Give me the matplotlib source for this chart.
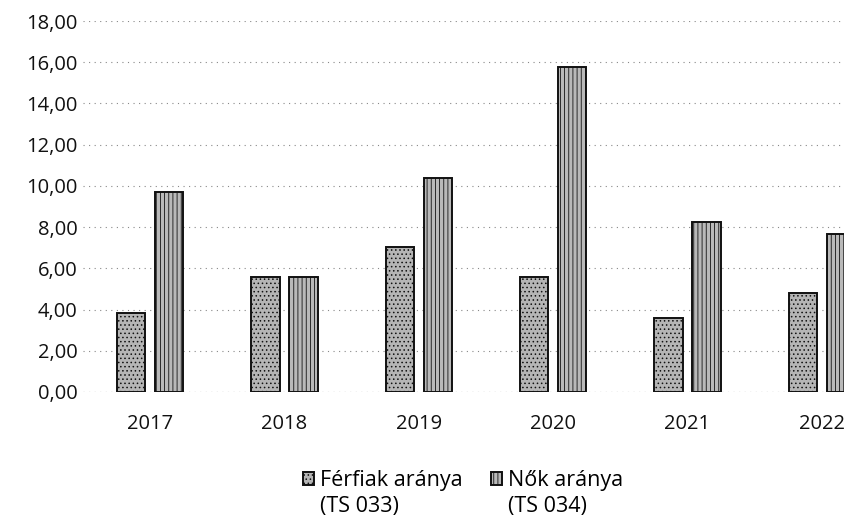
import matplotlib
matplotlib.use("Agg")
import matplotlib.pyplot as plt
from matplotlib.patches import Rectangle
from matplotlib.legend_handler import HandlerPatch
import numpy as np

years = ["2017", "2018", "2019", "2020", "2021", "2022"]
ferfiak = [3.85, 5.6, 7.05, 5.6, 3.6, 4.8]
nok = [9.7, 5.6, 10.4, 15.75, 8.25, 7.65]
series_labels = ["Férfiak aránya\n(TS 033)", "Nők aránya\n(TS 034)"]
yticks = [0, 2, 4, 6, 8, 10, 12, 14, 16, 18]

plt.rcParams['font.family'] = ['Open Sans', 'DejaVu Sans']
plt.rcParams['hatch.color'] = '#3a3a3a'
plt.rcParams['hatch.linewidth'] = 0.6

fig = plt.figure(figsize=(8.45, 5.2), dpi=100)
ax = fig.add_axes([83/845, 128/520, 806/845, 371/520])

x = np.arange(len(years))
w = 0.21
off = 0.142
b1 = ax.bar(x - off, ferfiak, width=w, color='#b5b5b5', edgecolor='#111111',
            linewidth=1.4, hatch='....', label=series_labels[0], zorder=3)
b2 = ax.bar(x + off, nok, width=w, color='#b9b9b9', edgecolor='#111111',
            linewidth=1.4, hatch='||||', label=series_labels[1], zorder=3)

ax.set_xlim(-0.5, 5.5)
ax.set_ylim(0, 18)
ax.set_yticks(yticks)
ax.set_yticklabels([f"{v:.2f}".replace('.', ',') for v in yticks], fontsize=14.5)
ax.set_xticks(x)
ax.set_xticklabels(years, fontsize=14.5)
ax.tick_params(axis='both', length=0, colors='#111111')
ax.tick_params(axis='x', pad=16)
ax.tick_params(axis='y', pad=4)
for s in ax.spines.values():
    s.set_visible(False)
ax.yaxis.grid(True, linestyle=(0, (1, 4)), color='#888888', linewidth=0.8, zorder=0)
ax.axhline(0, linestyle=(0, (1, 4)), color='#888888', linewidth=0.8, zorder=1)


def top_patch(legend, orig_handle, xdescent, ydescent, width, height, fontsize):
    return Rectangle((-xdescent, -ydescent + fontsize * 0.72), width, height)


h1 = b1.patches[0]
h2 = b2.patches[0]
hm = {h1: HandlerPatch(patch_func=top_patch), h2: HandlerPatch(patch_func=top_patch)}
leg = fig.legend(handles=[h1, h2], labels=series_labels, loc='upper center',
                 bbox_to_anchor=(463/845, 1 - 451/520),
                 ncol=2, frameon=False, fontsize=15.5, handlelength=0.5, handleheight=0.5,
                 handletextpad=0.3, columnspacing=1.3, handler_map=hm)
for t in leg.get_texts():
    t.set_linespacing(1.3)

fig.savefig("out.png", dpi=100)
